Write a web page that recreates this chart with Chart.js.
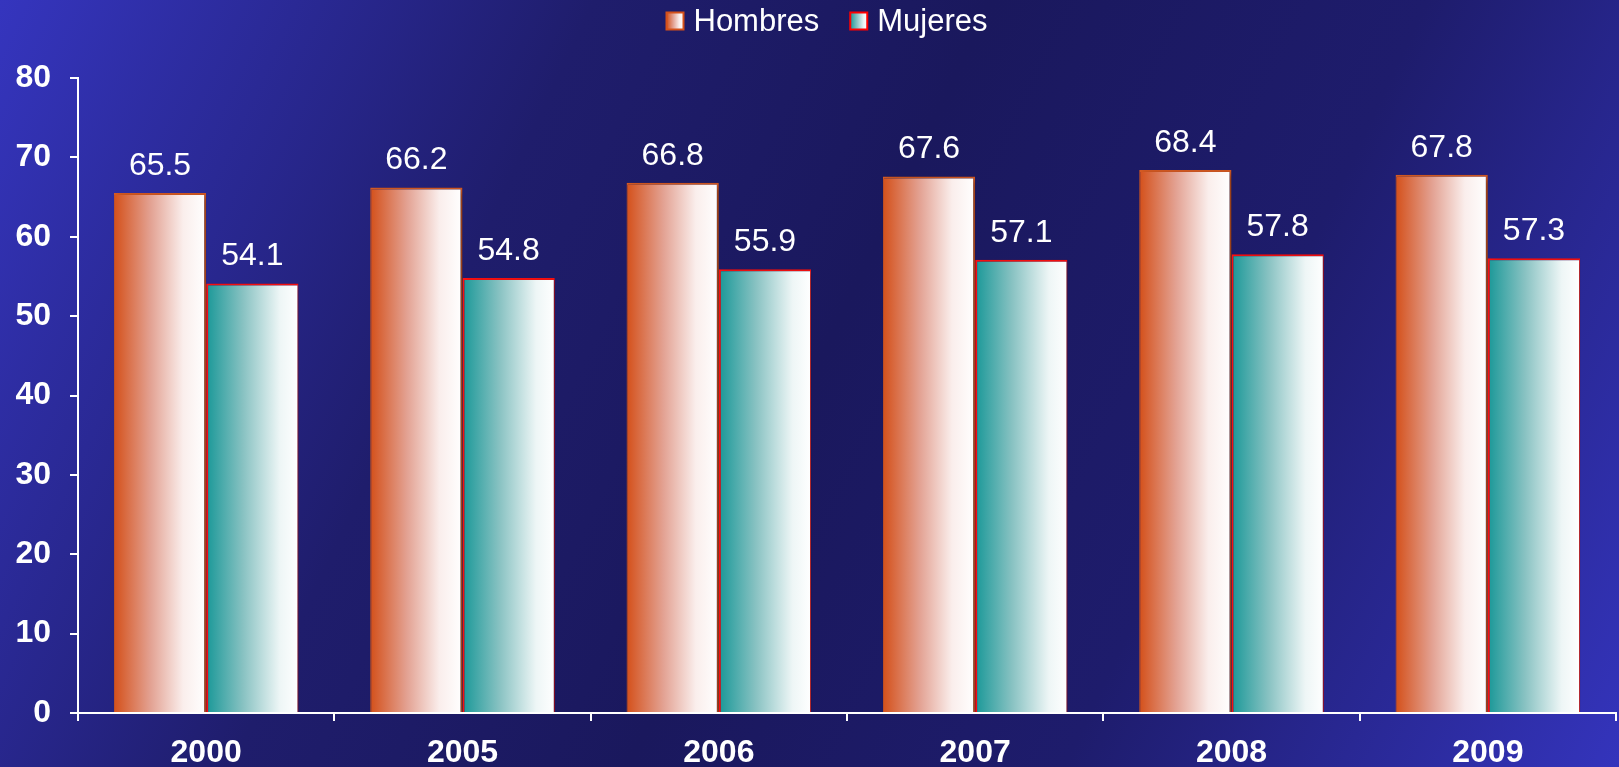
<!DOCTYPE html>
<html>
<head>
<meta charset="utf-8">
<script src="https://cdn.jsdelivr.net/npm/chart.js@4.4.0/dist/chart.umd.min.js"></script>
<style>
  html, body { margin: 0; padding: 0; background: #1b1a5e; }
  #wrap { width: 1619px; height: 767px; }
</style>
</head>
<body>
<div id="wrap"><canvas id="barChart" width="1619" height="767"></canvas></div>
<script>
const years = ['2000', '2005', '2006', '2007', '2008', '2009'];
const hombres = [65.5, 66.2, 66.8, 67.6, 68.4, 67.8];
const mujeres = [54.1, 54.8, 55.9, 57.1, 57.8, 57.3];
const seriesNames = ['Hombres', 'Mujeres'];

const FONT = '"Liberation Sans", Arial, sans-serif';
const CAT_PCT = 0.72;

// gradient stops for each series (left -> right of a bar)
const barStops = [
    [[0, '#d4501a'], [0.4, '#e3a293'], [0.75, '#faeeec'], [1, '#ffffff']],
    [[0, '#1a9898'], [0.4, '#88c2c2'], [0.8, '#eef6f6'], [1, '#ffffff']],
];

function makeGrad(c, x0, x1, stops) {
    const g = c.createLinearGradient(x0, 0, x1, 0);
    stops.forEach(s => g.addColorStop(s[0], s[1]));
    return g;
}

function barFill(ctx) {
    const chart = ctx.chart;
    const xs = chart.scales && chart.scales.x;
    const stops = barStops[ctx.datasetIndex] || barStops[0];
    if (!xs || ctx.dataIndex === undefined) return stops[0][1];
    const center = xs.getPixelForValue(ctx.dataIndex);
    const bw = (xs.width / years.length) * CAT_PCT / 2;
    const left = ctx.datasetIndex === 0 ? center - bw : center;
    if (!isFinite(left) || !isFinite(bw) || bw <= 0) return stops[0][1];
    return makeGrad(chart.ctx, left, left + bw, stops);
}

const backgroundPlugin = {
    id: 'bg',
    beforeDraw(chart) {
        const c = chart.ctx;
        const w = chart.width, h = chart.height;
        const g = c.createLinearGradient(0, 0, w, h);
        g.addColorStop(0, '#3535be');
        g.addColorStop(0.3, '#1f1d6c');
        g.addColorStop(0.5, '#1a185d');
        g.addColorStop(0.72, '#1e1c6c');
        g.addColorStop(1, '#3434bc');
        c.save();
        c.fillStyle = g;
        c.fillRect(0, 0, w, h);
        c.restore();
    }
};

const shadowPlugin = {
    id: 'barShadow',
    beforeDatasetsDraw(chart) {
        const c = chart.ctx;
        c.save();
        c.shadowColor = 'rgba(0,0,0,0.35)';
        c.shadowBlur = 6;
        c.shadowOffsetX = 3;
        c.shadowOffsetY = 2;
    },
    afterDatasetsDraw(chart) {
        chart.ctx.restore();
    }
};

const valueLabels = {
    id: 'valueLabels',
    afterDatasetsDraw(chart) {
        const c = chart.ctx;
        c.save();
        c.font = '32px ' + FONT;
        c.fillStyle = '#ffffff';
        c.textAlign = 'center';
        c.textBaseline = 'middle';
        chart.data.datasets.forEach((ds, i) => {
            chart.getDatasetMeta(i).data.forEach((bar, j) => {
                c.fillText(ds.data[j].toFixed(1), bar.x, bar.y - 27);
            });
        });
        c.restore();
    }
};

const topLegend = {
    id: 'topLegend',
    afterDraw(chart) {
        const c = chart.ctx;
        const box = 17, gap = 10, spacing = 31, cx = 827, cy = 21;
        c.save();
        c.font = '31px ' + FONT;
        const widths = seriesNames.map(n => c.measureText(n).width);
        const total = widths.reduce((a, w) => a + box + gap + w, 0) + spacing * (seriesNames.length - 1);
        let x = cx - total / 2;
        const borders = ['#d4501a', '#ff0000'];
        seriesNames.forEach((name, i) => {
            c.fillStyle = makeGrad(c, x, x + box, barStops[i]);
            c.fillRect(x, cy - box / 2, box, box);
            c.lineWidth = 2;
            c.strokeStyle = borders[i];
            c.strokeRect(x, cy - box / 2, box, box);
            c.fillStyle = '#ffffff';
            c.textAlign = 'left';
            c.textBaseline = 'middle';
            c.fillText(name, x + box + gap, cy + 1);
            x += box + gap + widths[i] + spacing;
        });
        c.restore();
    }
};

const ctx = document.getElementById('barChart').getContext('2d');

const chart = new Chart(ctx, {
    type: 'bar',
    data: {
        labels: years,
        datasets: [{
            label: seriesNames[0],
            data: hombres,
            backgroundColor: barFill,
            borderColor: '#d65a22',
            borderWidth: { top: 2, left: 1, right: 2, bottom: 0 },
            borderSkipped: 'start',
            categoryPercentage: CAT_PCT,
            barPercentage: 1.0,
        }, {
            label: seriesNames[1],
            data: mujeres,
            backgroundColor: barFill,
            borderColor: '#ff1010',
            borderWidth: { top: 2, left: 2, right: 1, bottom: 0 },
            borderSkipped: 'start',
            categoryPercentage: CAT_PCT,
            barPercentage: 1.0,
        }],
    },
    options: {
        responsive: false,
        animation: false,
        layout: {
            padding: { top: 78, left: 0, right: 3, bottom: 0 },
        },
        plugins: {
            legend: { display: false },
            tooltip: { enabled: false },
        },
        scales: {
            x: {
                afterFit(scale) { scale.height = 54; },
                grid: {
                    offset: true,
                    drawOnChartArea: false,
                    drawTicks: true,
                    tickLength: 8,
                    color: '#ffffff',
                    lineWidth: 2,
                },
                border: { display: true, color: '#ffffff', width: 2 },
                ticks: {
                    color: '#ffffff',
                    padding: 16,
                    font: { family: FONT, size: 32, weight: 'bold', lineHeight: 1 },
                },
            },
            y: {
                min: 0,
                max: 80,
                afterFit(scale) { scale.width = 78; },
                grid: {
                    drawOnChartArea: false,
                    drawTicks: true,
                    tickLength: 8,
                    color: '#ffffff',
                    lineWidth: 2,
                },
                border: { display: true, color: '#ffffff', width: 2 },
                ticks: {
                    stepSize: 10,
                    color: '#ffffff',
                    padding: 19,
                    font: { family: FONT, size: 32, weight: 'bold' },
                },
            },
        },
    },
    plugins: [backgroundPlugin, shadowPlugin, valueLabels, topLegend],
});
</script>
</body>
</html>
